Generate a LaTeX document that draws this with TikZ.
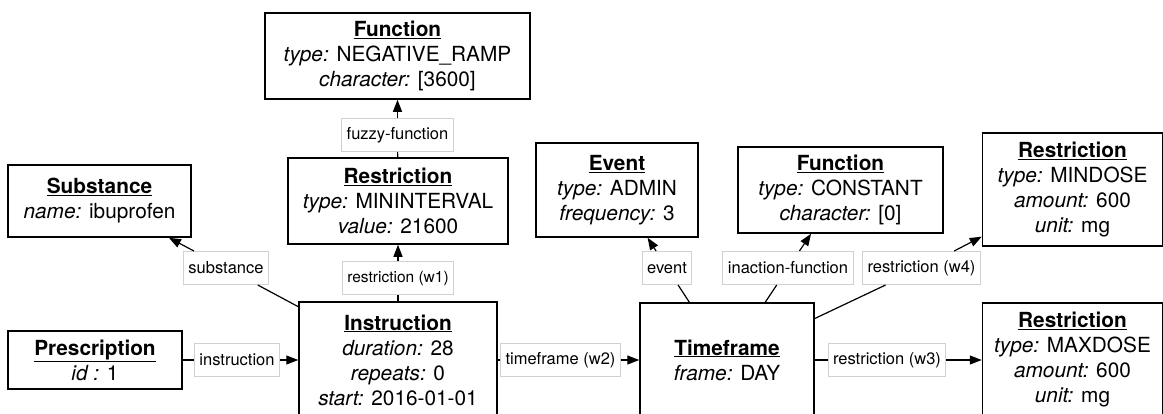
\documentclass[tikz,border=0pt]{standalone}
\usepackage{fontspec}
\setmainfont{TeX Gyre Heros}
\usepackage{tikz}
\usetikzlibrary{arrows.meta}
\tikzset{
  ent/.style ={rectangle, draw=black, line width=1.5pt, fill=white, align=center,
               inner sep=2pt, font=\fontsize{20.8}{25}\selectfont},
  lbl/.style ={rectangle, draw=black!18, line width=1pt, fill=white, inner xsep=5pt,
               minimum height=33pt, font=\fontsize{16.5}{19}\selectfont},
  ln/.style  ={line width=1.2pt},
  arr/.style ={ln, -{Triangle[length=12pt,width=9pt]}},
}
\newcommand{\ttl}[1]{\underline{\textbf{#1}}}
\newcommand{\att}[2]{\textit{#1:} #2}

\begin{document}
\begin{tikzpicture}[x=1pt,y=-1pt]
  \useasboundingbox (0,0) rectangle (1163,413);
  \clip (0,0) rectangle (1163,413);
  % entities
  \node[ent, minimum width=174pt, minimum height=58pt]  (presc)  at (95,360)     {\ttl{Prescription}\\\textit{id :} 1};
  \node[ent, minimum width=183pt, minimum height=72pt]  (subst)  at (99.5,201)   {\ttl{Substance}\\\att{name}{ibuprofen}};
  \node[ent, minimum width=198pt, minimum height=116pt] (ins)    at (398,360)    {\ttl{Instruction}\\\att{duration}{28}\\\att{repeats}{0}\\\att{start}{2016-01-01}};
  \node[ent, minimum width=220pt, minimum height=86pt]  (rmin)   at (398,201)    {\ttl{Restriction}\\\att{type}{MININTERVAL}\\\att{value}{21600}};
  \node[ent, minimum width=265pt, minimum height=86pt]  (fneg)   at (397.5,56)   {\ttl{Function}\\\att{type}{NEGATIVE\_RAMP}\\\att{character}{[3600]}};
  \node[ent, minimum width=174pt, minimum height=114pt] (tf)     at (727,360)    {\ttl{Timeframe}\\\att{frame}{DAY}};
  \node[ent, minimum width=162pt, minimum height=94pt]  (event)  at (617,190)    {\ttl{Event}\\\att{type}{ADMIN}\\\att{frequency}{3}};
  \node[ent, minimum width=205pt, minimum height=86pt]  (fconst) at (840.5,190)  {\ttl{Function}\\\att{type}{CONSTANT}\\\att{character}{[0]}};
  \node[ent, minimum width=180pt, minimum height=113pt] (rmind)  at (1072.5,189.5) {\ttl{Restriction}\\\att{type}{MINDOSE}\\\att{amount}{600}\\\att{unit}{mg}};
  \node[ent, minimum width=180pt, minimum height=114pt] (rmaxd)  at (1072.5,360) {\ttl{Restriction}\\\att{type}{MAXDOSE}\\\att{amount}{600}\\\att{unit}{mg}};
  % edge labels
  \node[lbl] (lins)   at (237,360)   {instruction};
  \node[lbl] (lsub)   at (226,268)   {substance};
  \node[lbl, font=\fontsize{15.5}{18}\selectfont] (lw1) at (398,278) {restriction (w1)};
  \node[lbl] (lfuzzy) at (397.5,135) {fuzzy-function};
  \node[lbl] (lw2)    at (560.5,360) {timeframe (w2)};
  \node[lbl] (levent) at (667,268)   {event};
  \node[lbl] (linact) at (788,268)   {inaction-function};
  \node[lbl] (lw4)    at (921.5,268) {restriction (w4)};
  \node[lbl] (lw3)    at (887,360)   {restriction (w3)};
  % edges
  \draw[ln] (presc) -- (lins);  \draw[arr] (lins) -- (ins);
  \draw[ln] (ins) -- (lsub);    \draw[arr] (lsub) -- (subst);
  \draw[ln] (ins) -- (lw1);     \draw[arr] (lw1) -- (rmin);
  \draw[ln] (rmin) -- (lfuzzy); \draw[arr] (lfuzzy) -- (fneg);
  \draw[ln] (ins) -- (lw2);     \draw[arr] (lw2) -- (tf);
  \draw[ln] (tf) -- (levent);   \draw[arr] (levent) -- (event);
  \draw[ln] (tf) -- (linact);   \draw[arr] (linact) -- (fconst);
  \draw[ln] (tf) -- (lw4);      \draw[arr] (lw4) -- (rmind);
  \draw[ln] (tf) -- (lw3);      \draw[arr] (lw3) -- (rmaxd);
\end{tikzpicture}
\end{document}
